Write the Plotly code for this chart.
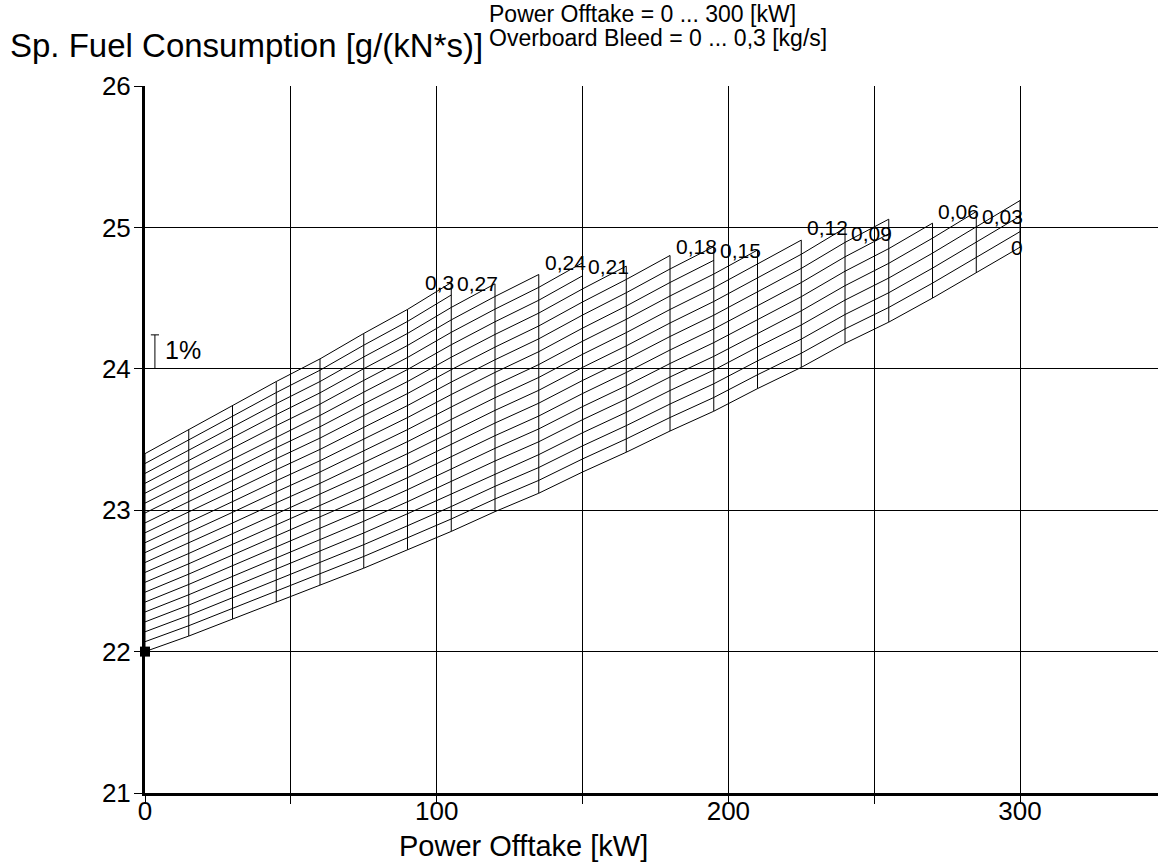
import plotly.graph_objects as go

# ---------------- data ----------------
power_kw = [0, 15, 30, 45, 60, 75, 90, 105, 120, 135, 150,
            165, 180, 195, 210, 225, 240, 255, 270, 285, 300]

bleed_kgs = [0.0, 0.015, 0.03, 0.045, 0.06, 0.075, 0.09, 0.105, 0.12, 0.135, 0.15,
             0.165, 0.18, 0.195, 0.21, 0.225, 0.24, 0.255, 0.27, 0.285, 0.3]

# SFC of the zero-bleed line at each power offtake [g/(kN*s)]
sfc_zero_bleed = [22.00, 22.11, 22.23, 22.35, 22.47, 22.59, 22.72, 22.85, 22.99, 23.12, 23.27,
                  23.41, 23.56, 23.70, 23.86, 24.01, 24.18, 24.33, 24.50, 24.68, 24.86]

# SFC rise between neighbouring bleed lines (0.015 kg/s apart) at each power offtake
sfc_rise_per_bleed_step = [0.070, 0.073, 0.0755, 0.078, 0.080, 0.083, 0.085, 0.088, 0.0895, 0.091, 0.0925,
                           0.094, 0.0955, 0.097, 0.098, 0.100, 0.102, 0.104, 0.106, 0.108, 0.110]

# last power offtake reached by each bleed line [kW]
bleed_line_last_kw = [300, 300, 300, 300, 285, 270, 255, 255, 240, 225, 210,
                      195, 195, 180, 165, 150, 150, 135, 120, 105, 105]

labelled_bleeds = [0.0, 0.03, 0.06, 0.09, 0.12, 0.15, 0.18, 0.21, 0.24, 0.27, 0.3]

x_ticks = [0, 50, 100, 150, 200, 250, 300]
x_tick_text = ["0", "", "100", "", "200", "", "300"]
y_ticks = [21, 22, 23, 24, 25, 26]

# ---------------- carpet table ----------------
sfc_table = [[sfc_zero_bleed[j] + k * sfc_rise_per_bleed_step[j] for j in range(len(power_kw))]
             for k in range(len(bleed_kgs))]

xs, ys = [], []
# lines of constant bleed
for k in range(len(bleed_kgs)):
    for j, p in enumerate(power_kw):
        if p <= bleed_line_last_kw[k]:
            xs.append(p)
            ys.append(sfc_table[k][j])
    xs.append(None)
    ys.append(None)
# lines of constant power offtake
for j, p in enumerate(power_kw):
    kmax = max(k for k in range(len(bleed_kgs)) if bleed_line_last_kw[k] >= p)
    xs += [p, p, None]
    ys += [sfc_table[0][j], sfc_table[kmax][j], None]

fig = go.Figure()
fig.add_trace(go.Scatter(x=xs, y=ys, mode="lines",
                         line=dict(color="black", width=1),
                         hoverinfo="skip", showlegend=False))
fig.add_trace(go.Scatter(x=[power_kw[0]], y=[sfc_zero_bleed[0]], mode="markers",
                         marker=dict(symbol="square", size=10, color="black"),
                         hoverinfo="skip", showlegend=False, cliponaxis=False))

# bleed labels at the ends of the labelled lines
annotations = []
for k, b in enumerate(bleed_kgs):
    if any(abs(b - lb) < 1e-9 for lb in labelled_bleeds):
        pe = bleed_line_last_kw[k]
        j = power_kw.index(pe)
        txt = f"{b:g}".replace(".", ",")
        annotations.append(dict(x=pe, y=sfc_table[k][j], xref="x", yref="y", text=txt,
                                showarrow=False, xanchor="right", yanchor="middle",
                                xshift=5, font=dict(size=21, color="black")))

W, H = 1158, 866
L, R, T, B = 145, 0, 86, 73
PW, PH = W - L - R, H - T - B


def px(xp):
    return (xp - L) / PW


def py(yp):
    return 1 - (yp - T) / PH


annotations += [
    dict(x=px(8), y=py(45), xref="paper", yref="paper", text="Sp. Fuel Consumption [g/(kN*s)]",
         showarrow=False, xanchor="left", yanchor="middle", font=dict(size=33, color="black")),
    dict(x=px(487), y=py(14), xref="paper", yref="paper", text="Power Offtake = 0 ... 300 [kW]",
         showarrow=False, xanchor="left", yanchor="middle", font=dict(size=23, color="black")),
    dict(x=px(487), y=py(38), xref="paper", yref="paper", text="Overboard Bleed = 0 ... 0,3 [kg/s]",
         showarrow=False, xanchor="left", yanchor="middle", font=dict(size=23, color="black")),
    dict(x=px(523), y=py(846), xref="paper", yref="paper", text="Power Offtake [kW]",
         showarrow=False, xanchor="center", yanchor="middle", font=dict(size=29, color="black")),
    dict(x=6.0, y=24.13, xref="x", yref="y", text="1%", showarrow=False,
         xanchor="left", yanchor="middle", font=dict(size=25, color="black")),
]

# 1 % scale bar at SFC = 24
ref = 24.0
bar_x = 3.4
shapes = [
    dict(type="line", xref="x", yref="y", x0=bar_x, x1=bar_x, y0=ref, y1=ref * 1.01,
         line=dict(color="black", width=1)),
    dict(type="line", xref="x", yref="y", x0=bar_x - 1.4, x1=bar_x + 1.4, y0=ref * 1.01, y1=ref * 1.01,
         line=dict(color="black", width=1)),
]

fig.update_layout(
    width=W, height=H,
    margin=dict(l=L, r=R, t=T, b=B, autoexpand=False),
    plot_bgcolor="white", paper_bgcolor="white",
    font=dict(family="Liberation Sans, Arial, sans-serif", color="black"),
    annotations=annotations, shapes=shapes,
    showlegend=False,
)
fig.update_xaxes(range=[0, 347.3], tickmode="array", tickvals=x_ticks, ticktext=x_tick_text,
                 ticks="outside", ticklen=8, tickwidth=1, tickcolor="black",
                 ticklabelstandoff=-15,
                 showgrid=True, gridcolor="black", gridwidth=1,
                 showline=True, linecolor="black", linewidth=3, zeroline=False,
                 tickfont=dict(size=26, color="black"))
fig.update_yaxes(range=[21, 26], tickmode="array", tickvals=y_ticks,
                 ticks="outside", ticklen=8, tickwidth=1, tickcolor="black",
                 ticklabelstandoff=-2,
                 showgrid=True, gridcolor="black", gridwidth=1,
                 showline=True, linecolor="black", linewidth=3, zeroline=False,
                 tickfont=dict(size=26, color="black"))

fig.write_html("out.html", config={"displayModeBar": False},
               post_script="document.body.style.margin='0px';")
